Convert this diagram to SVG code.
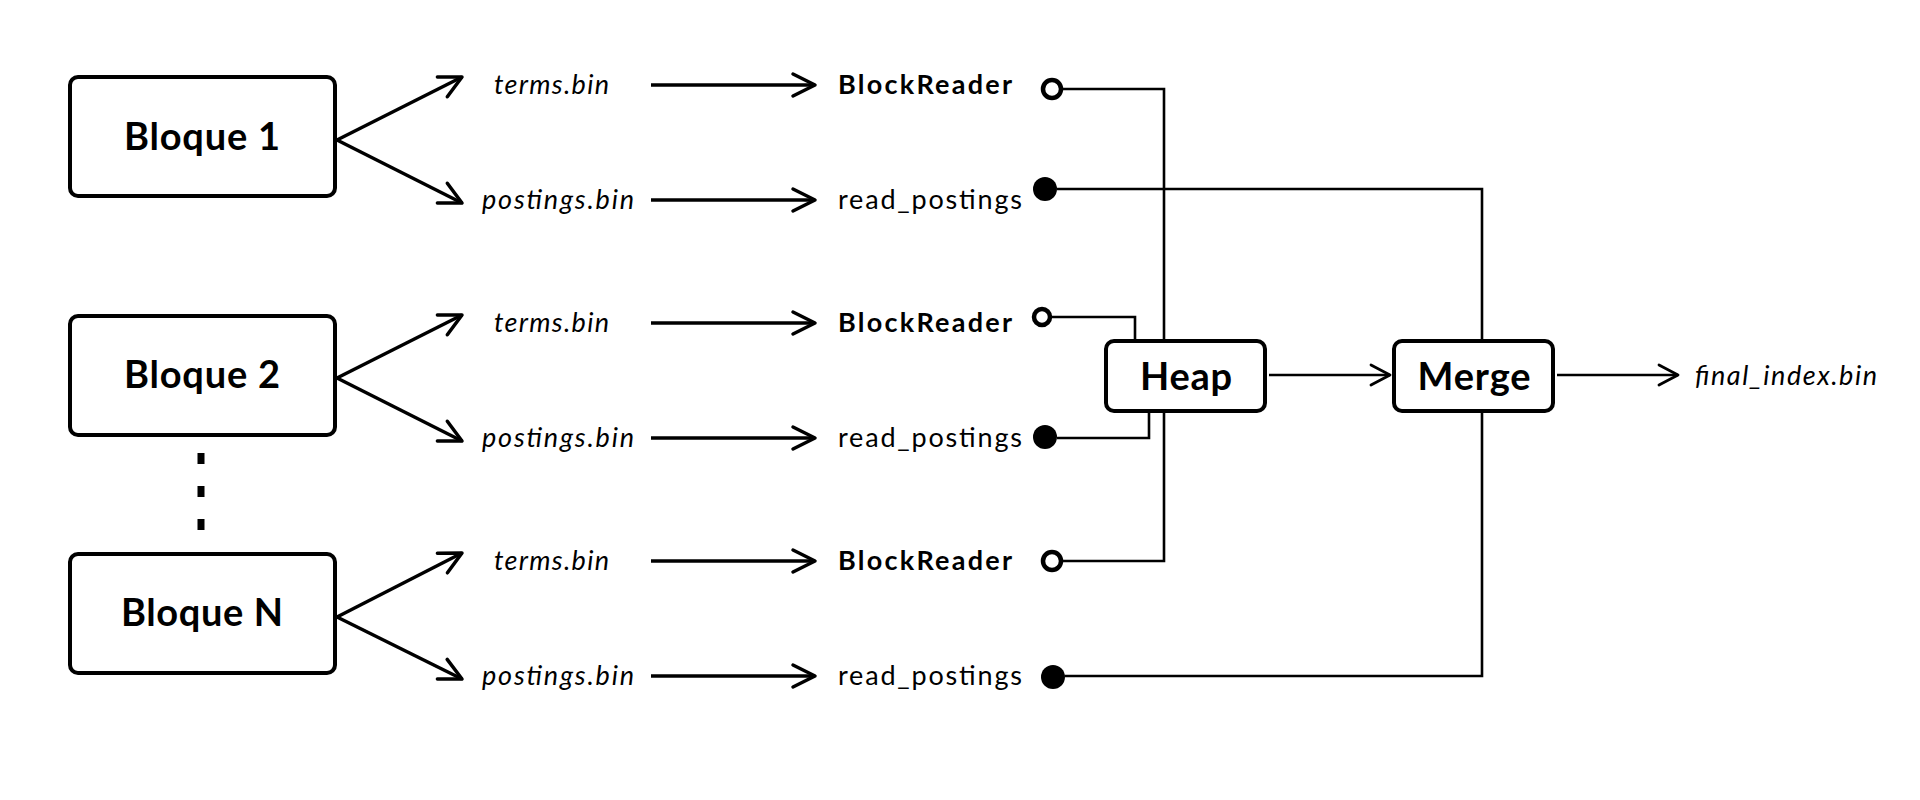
<svg xmlns="http://www.w3.org/2000/svg" width="1920" height="800" viewBox="0 0 1920 800">
<style>
.box{fill:#fff;stroke:#000;stroke-width:4}
.big{font-family:Lato,"Open Sans","Liberation Sans",sans-serif;font-weight:700;fill:#000;text-anchor:middle}
.file{font-family:Lato,"Open Sans","Liberation Sans",sans-serif;font-weight:400;font-style:italic;font-size:27px;fill:#000}
.bold{font-family:Lato,"Open Sans","Liberation Sans",sans-serif;font-weight:700;font-size:27px;fill:#000}
.light{font-family:Lato,"Open Sans","Liberation Sans",sans-serif;font-weight:400;font-size:27px;fill:#000}
.arrow{fill:none;stroke:#000;stroke-width:3.5;marker-end:url(#ah)}
.arrowS{fill:none;stroke:#000;stroke-width:2.6;marker-end:url(#ahs)}
.wire{fill:none;stroke:#000;stroke-width:2.6}
.open{fill:#fff;stroke:#000;stroke-width:4.5}
.dot{fill:#000}
</style>
<defs>
<marker id="ah" viewBox="-30 -15 34 30" markerWidth="34" markerHeight="30" refX="0" refY="0" orient="auto" markerUnits="userSpaceOnUse">
<path d="M-22,-11 L0,0 L-22,11" fill="none" stroke="#000" stroke-width="3.5" stroke-linecap="round" stroke-linejoin="round"/>
</marker>
<marker id="ahs" viewBox="-30 -15 34 30" markerWidth="34" markerHeight="30" refX="0" refY="0" orient="auto" markerUnits="userSpaceOnUse">
<path d="M-19,-10 L0,0 L-19,10" fill="none" stroke="#000" stroke-width="2.8" stroke-linecap="round" stroke-linejoin="round"/>
</marker>
</defs>
<rect width="1920" height="800" fill="#fff"/>

<g id="connectors">
<line class="arrow" x1="337" y1="140" x2="462" y2="77"/>
<line class="arrow" x1="337" y1="140" x2="462" y2="203"/>
<line class="arrow" x1="337" y1="378" x2="462" y2="315"/>
<line class="arrow" x1="337" y1="378" x2="462" y2="441"/>
<line class="arrow" x1="337" y1="617" x2="462" y2="553"/>
<line class="arrow" x1="337" y1="617" x2="462" y2="679"/>
<line class="arrow" x1="651" y1="85" x2="815" y2="85"/>
<line class="arrow" x1="651" y1="200" x2="815" y2="200"/>
<line class="arrow" x1="651" y1="323" x2="815" y2="323"/>
<line class="arrow" x1="651" y1="438" x2="815" y2="438"/>
<line class="arrow" x1="651" y1="561" x2="815" y2="561"/>
<line class="arrow" x1="651" y1="676" x2="815" y2="676"/>
<polyline class="wire" points="1061,89 1164,89 1164,341"/>
<polyline class="wire" points="1057,189 1482,189 1482,341"/>
<polyline class="wire" points="1050,317 1135,317 1135,341"/>
<polyline class="wire" points="1057,438 1149,438 1149,411"/>
<polyline class="wire" points="1061,561 1164,561 1164,411"/>
<polyline class="wire" points="1065,676 1482,676 1482,411"/>
<line class="arrowS" x1="1269" y1="375" x2="1390" y2="375"/>
<line class="arrowS" x1="1557" y1="375" x2="1678" y2="375"/>
<line x1="201" y1="453" x2="201" y2="531" stroke="#000" stroke-width="7" stroke-dasharray="11 22"/>
</g>

<g id="bloque1"><rect class="box" x="70" y="77" width="265" height="119" rx="8"/><text class="big" x="202" y="150" font-size="38" textLength="156" lengthAdjust="spacing">Bloque 1</text></g>
<g id="bloque2"><rect class="box" x="70" y="316" width="265" height="119" rx="8"/><text class="big" x="202" y="388" font-size="38" textLength="156" lengthAdjust="spacing">Bloque 2</text></g>
<g id="bloqueN"><rect class="box" x="70" y="554" width="265" height="119" rx="8"/><text class="big" x="202" y="626" font-size="38" textLength="162" lengthAdjust="spacing">Bloque N</text></g>

<g id="terms1"><text class="file" x="494" y="94" textLength="115" lengthAdjust="spacing">terms.bin</text></g>
<g id="postings1"><text class="file" x="482" y="209" textLength="152" lengthAdjust="spacing">postings.bin</text></g>
<g id="terms2"><text class="file" x="494" y="332" textLength="115" lengthAdjust="spacing">terms.bin</text></g>
<g id="postings2"><text class="file" x="482" y="447" textLength="152" lengthAdjust="spacing">postings.bin</text></g>
<g id="termsN"><text class="file" x="494" y="570" textLength="115" lengthAdjust="spacing">terms.bin</text></g>
<g id="postingsN"><text class="file" x="482" y="685" textLength="152" lengthAdjust="spacing">postings.bin</text></g>

<g id="reader1"><text class="bold" x="838" y="94" textLength="174" lengthAdjust="spacing">BlockReader</text><circle class="open" cx="1052" cy="89" r="9"/></g>
<g id="readpost1"><text class="light" x="838" y="209" textLength="184" lengthAdjust="spacing">read_postings</text><circle class="dot" cx="1045" cy="189" r="12"/></g>
<g id="reader2"><text class="bold" x="838" y="332" textLength="174" lengthAdjust="spacing">BlockReader</text><circle class="open" cx="1042" cy="317" r="8" stroke-width="4"/></g>
<g id="readpost2"><text class="light" x="838" y="447" textLength="184" lengthAdjust="spacing">read_postings</text><circle class="dot" cx="1045" cy="437" r="12"/></g>
<g id="readerN"><text class="bold" x="838" y="570" textLength="174" lengthAdjust="spacing">BlockReader</text><circle class="open" cx="1052" cy="561" r="9"/></g>
<g id="readpostN"><text class="light" x="838" y="685" textLength="184" lengthAdjust="spacing">read_postings</text><circle class="dot" cx="1053" cy="677" r="12"/></g>

<g id="heap"><rect class="box" x="1106" y="341" width="159" height="70" rx="8"/><text class="big" x="1186" y="390" font-size="38" textLength="92" lengthAdjust="spacing">Heap</text></g>
<g id="merge"><rect class="box" x="1394" y="341" width="159" height="70" rx="8"/><text class="big" x="1474" y="390" font-size="38" textLength="113" lengthAdjust="spacing">Merge</text></g>
<g id="final"><text class="file" x="1695" y="385" textLength="182" lengthAdjust="spacing">final_index.bin</text></g>
</svg>
